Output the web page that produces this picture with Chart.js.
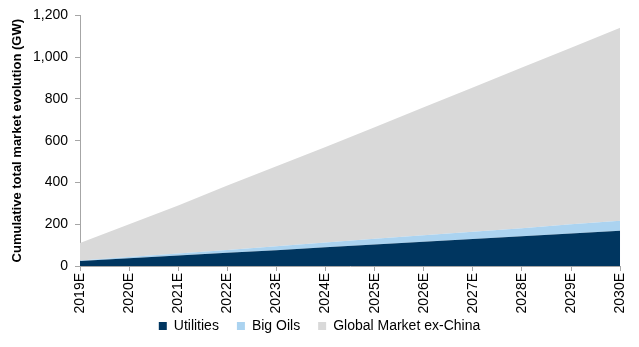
<!DOCTYPE html>
<html>
<head>
<meta charset="utf-8">
<script src="https://cdn.jsdelivr.net/npm/chart.js@4"></script>
<style>
  html, body { margin: 0; padding: 0; background: #fff; }
  #wrap { width: 639px; height: 347px; position: relative; }
</style>
</head>
<body>
<div id="wrap"><canvas id="c" width="639" height="347"></canvas></div>
<script>
const categories = ['2019E','2020E','2021E','2022E','2023E','2024E','2025E','2026E','2027E','2028E','2029E','2030E'];
const utilities = [24, 37, 50, 63, 76, 90, 103, 116, 129, 142, 156, 169];
const bigOils = [2, 6, 10, 14, 18, 22, 27, 31, 35, 39, 44, 48];
const globalMarketExChina = [110, 200, 290, 385, 478, 570, 664, 760, 855, 950, 1045, 1141];
const yTicks = [0, 200, 400, 600, 800, 1000, 1200];

const remainder = globalMarketExChina.map((v, i) => v - utilities[i] - bigOils[i]);
const FONT = "'Liberation Sans', Arial, sans-serif";

// let the rotated x labels overflow the (shortened) axis box, and centre the legend on the full canvas
const layoutFix = {
  id: 'layoutFix',
  afterLayout(chart) {
    const x = chart.scales.x;
    x.bottom = chart.height;
    if (chart.legend) { chart.legend.left = 0; chart.legend.right = chart.width; }
  }
};

new Chart(document.getElementById('c'), {
  type: 'line',
  data: {
    labels: categories,
    datasets: [
      { label: 'Utilities', data: utilities, backgroundColor: '#003660', borderWidth: 0, fill: 'origin', pointRadius: 0, stack: 's' },
      { label: 'Big Oils', data: bigOils, backgroundColor: '#abd3f0', borderWidth: 0, fill: '-1', pointRadius: 0, stack: 's' },
      { label: 'Global Market ex-China', data: remainder, backgroundColor: '#d9d9d9', borderWidth: 0, fill: '-1', pointRadius: 0, stack: 's' }
    ]
  },
  plugins: [layoutFix],
  options: {
    responsive: false,
    animation: false,
    devicePixelRatio: 1,
    layout: { padding: { top: 15, right: 15, left: 0, bottom: 4 } },
    plugins: {
      tooltip: { enabled: false },
      legend: {
        position: 'bottom',
        labels: {
          color: '#000',
          font: { family: FONT, size: 14 },
          boxWidth: 8, boxHeight: 8, padding: 18,
          generateLabels(chart) {
            return chart.data.datasets.map((d, i) => ({
              text: d.label, fillStyle: d.backgroundColor, strokeStyle: d.backgroundColor,
              lineWidth: 0, hidden: false, datasetIndex: i
            }));
          }
        }
      }
    },
    scales: {
      x: {
        type: 'category',
        offset: false,
        grid: { drawOnChartArea: false, drawTicks: true, tickLength: 5, color: '#a6a6a6', lineWidth: 1 },
        border: { color: '#a6a6a6', width: 1 },
        ticks: { color: '#000', font: { family: FONT, size: 14 }, minRotation: 90, maxRotation: 90, padding: 2, autoSkip: false },
        afterFit(s) { s.height = 35; }
      },
      y: {
        stacked: true,
        min: 0, max: 1200,
        afterBuildTicks(s) { s.ticks = yTicks.map(v => ({ value: v })); },
        grid: { drawOnChartArea: false, drawTicks: true, tickLength: 5, color: '#a6a6a6', lineWidth: 1 },
        border: { color: '#a6a6a6', width: 1 },
        ticks: { color: '#000', font: { family: FONT, size: 14 }, padding: 7,
          callback: v => v.toLocaleString('en-US') },
        title: { display: true, text: 'Cumulative total market evolution (GW)', color: '#000',
          font: { family: FONT, size: 13, weight: 'bold' }, padding: { top: 10, bottom: 4 } },
        afterFit(s) { s.width = 80; }
      }
    }
  }
});
</script>
</body>
</html>
